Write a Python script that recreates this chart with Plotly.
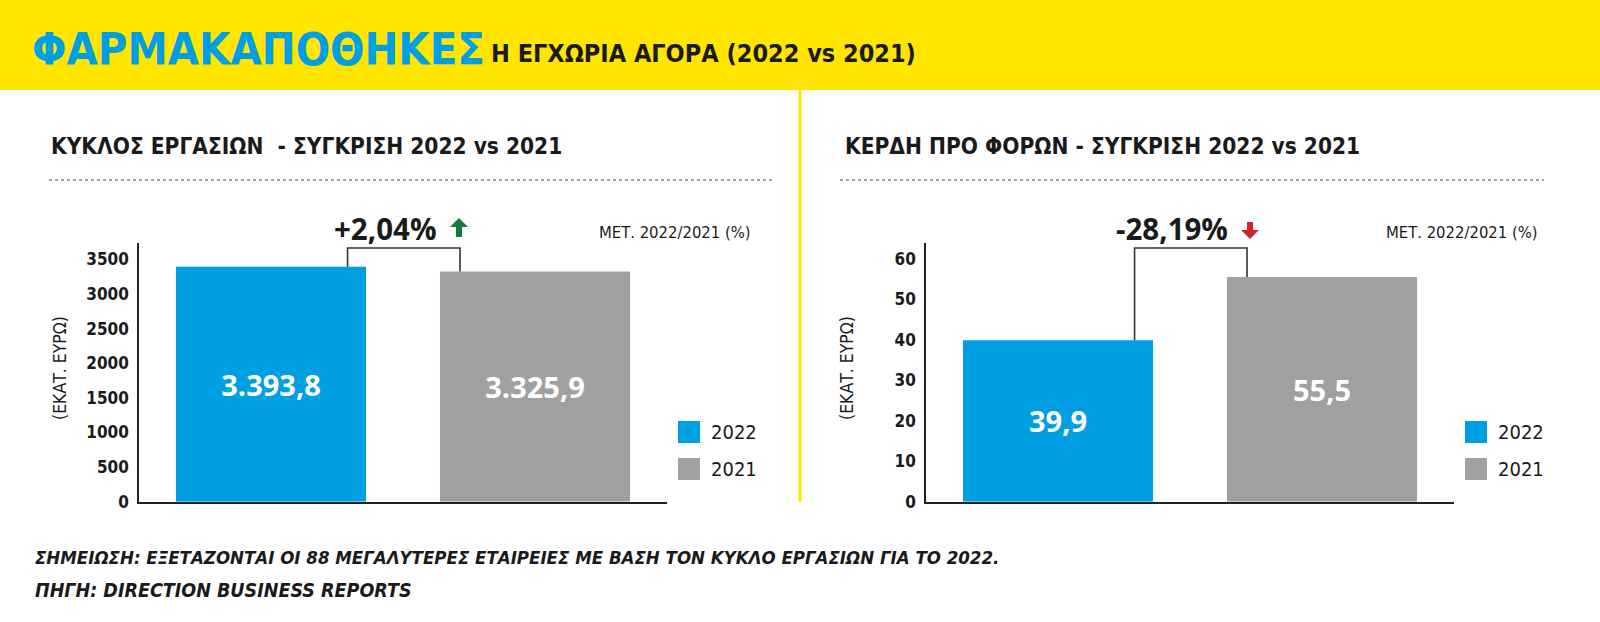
import plotly.graph_objects as go

# ---------------- data ----------------
categories = ["2022", "2021"]
turnover = [3393.8, 3325.9]          # ΚΥΚΛΟΣ ΕΡΓΑΣΙΩΝ (εκατ. ευρώ)
profit = [39.9, 55.5]                # ΚΕΡΔΗ ΠΡΟ ΦΟΡΩΝ (εκατ. ευρώ)
turnover_change = "+2,04%"
profit_change = "-28,19%"
turnover_ticks = [0, 500, 1000, 1500, 2000, 2500, 3000, 3500]
profit_ticks = [0, 10, 20, 30, 40, 50, 60]

# ---------------- style ----------------
W = 1600
H = 622           # visible height used for positioning
H_LAYOUT = 632    # layout height (rendered paper comes out ~10px shorter)
BLUE = "#009FE3"
GRAY = "#A0A0A0"
YELLOW = "#FFE500"
DARK = "#222222"
NARROW = "Noto Sans Condensed, DejaVu Sans Condensed, sans-serif"
WIDE = "Open Sans, Noto Sans, sans-serif"


def px(x):
    return x / W


def py(y):
    return 1 - y / H


def gr(v):
    s = f"{v:,.1f}"
    return s.replace(",", "#").replace(".", ",").replace("#", ".")


Y_BOT, Y_TOP = 501.7, 243.0
panels = [
    dict(vals=turnover, ticks=turnover_ticks, rng=3736, x0=139, change=turnover_change,
         title="ΚΥΚΛΟΣ ΕΡΓΑΣΙΩΝ  - ΣΥΓΚΡΙΣΗ 2022 vs 2021", tx=49, dot=(49, 772), up=True),
    dict(vals=profit, ticks=profit_ticks, rng=63.9, x0=926, change=profit_change,
         title="ΚΕΡΔΗ ΠΡΟ ΦΟΡΩΝ - ΣΥΓΚΡΙΣΗ 2022 vs 2021", tx=843, dot=(840, 1544), up=False),
]
PW = 528

fig = go.Figure()
shapes = []
annotations = []

# banner
shapes.append(dict(type="rect", xref="paper", yref="paper", x0=0, x1=1, y0=py(90), y1=1,
                   fillcolor=YELLOW, line=dict(width=0), layer="below"))
annotations.append(dict(xref="paper", yref="paper", x=px(30), y=py(50), xanchor="left", yanchor="middle",
                        text="<b>ΦΑΡΜΑΚΑΠΟΘΗΚΕΣ</b>", showarrow=False,
                        font=dict(family=NARROW, size=45, color=BLUE)))
annotations.append(dict(xref="paper", yref="paper", x=px(489), y=py(53), xanchor="left", yanchor="middle",
                        text="<b>Η ΕΓΧΩΡΙΑ ΑΓΟΡΑ (2022 vs 2021)</b>", showarrow=False,
                        font=dict(family=NARROW, size=25, color="#1a1a1a")))
# divider
shapes.append(dict(type="line", xref="paper", yref="paper", x0=px(800), x1=px(800), y0=py(90), y1=py(502),
                   line=dict(color=YELLOW, width=3)))

for i, p in enumerate(panels):
    xa = "x" if i == 0 else f"x{i+1}"
    ya = "y" if i == 0 else f"y{i+1}"
    fig.add_trace(go.Bar(
        x=[0, 1], y=p["vals"], width=0.72,
        marker=dict(color=[BLUE, GRAY], line=dict(width=0)),
        text=[f"<b>{gr(v)}</b>" for v in p["vals"]], textposition="inside", insidetextanchor="middle",
        textfont=dict(family=WIDE, size=29, color="white"), textangle=0,
        hoverinfo="skip", showlegend=False, xaxis=xa, yaxis=ya, cliponaxis=False,
    ))
    axkey = "xaxis" if i == 0 else f"xaxis{i+1}"
    aykey = "yaxis" if i == 0 else f"yaxis{i+1}"
    fig.update_layout(**{
        axkey: dict(domain=[px(p["x0"]), px(p["x0"] + PW)], range=[-0.5, 1.5], showticklabels=False,
                    showgrid=False, zeroline=False, showline=True, linecolor=DARK, linewidth=1.5,
                    ticks="", anchor=ya, fixedrange=True),
        aykey: dict(domain=[py(Y_BOT), py(Y_TOP)], range=[0, p["rng"]], tickvals=p["ticks"],
                    ticktext=[f"<b>{t}</b>" for t in p["ticks"]],
                    tickfont=dict(family=NARROW, size=17, color="#1a1a1a"),
                    showgrid=False, zeroline=False, showline=True, linecolor=DARK, linewidth=1.5,
                    ticks="", ticklabelstandoff=5, anchor=xa, fixedrange=True),
    })
    # subtitle
    annotations.append(dict(xref="paper", yref="paper", x=px(p["tx"]), y=py(146), xanchor="left",
                            yanchor="middle", text="<b>" + p["title"] + "</b>", showarrow=False,
                            font=dict(family=NARROW, size=22.5, color="#1a1a1a")))
    # dotted rule
    shapes.append(dict(type="line", xref="paper", yref="paper", x0=px(p["dot"][0]), x1=px(p["dot"][1]),
                       y0=py(180), y1=py(180), line=dict(color="#444444", width=1.2, dash="dot")))
    # y title
    annotations.append(dict(xref="paper", yref="paper", x=px(p["x0"] - 79), y=py(368), xanchor="center",
                            yanchor="middle", text="(ΕΚΑΤ. ΕΥΡΩ)", textangle=-90, showarrow=False,
                            font=dict(family=NARROW, size=17.5, color="#1a1a1a")))
    # bracket
    top = (Y_BOT - 248) / (Y_BOT - Y_TOP) * p["rng"]
    v0, v1 = p["vals"]
    shapes.append(dict(type="path", xref=xa, yref=ya,
                       path=f"M 0.29,{v0} L 0.29,{top} L 0.716,{top} L 0.716,{v1}",
                       line=dict(color="#333333", width=1.6)))
    # change label
    annotations.append(dict(xref="paper", yref="paper", x=px(p["x0"] + 246),
                            y=py(228), xanchor="center", yanchor="middle", text="<b>" + p["change"] + "</b>",
                            showarrow=False, font=dict(family=WIDE, size=29.5, color="#1a1a1a")))
    # arrow
    cx = p["x0"] + 320 if i == 0 else p["x0"] + 324
    if p["up"]:
        pts = [(cx, 218), (cx + 9, 227), (cx + 3, 227), (cx + 3, 237), (cx - 3, 237),
               (cx - 3, 227), (cx - 9, 227)]
        col = "#137A3B"
    else:
        pts = [(cx, 239), (cx + 9, 230), (cx + 3, 230), (cx + 3, 222), (cx - 3, 222),
               (cx - 3, 230), (cx - 9, 230)]
        col = "#D2232A"
    path = "M " + " L ".join(f"{px(a):.5f},{py(b):.5f}" for a, b in pts) + " Z"
    shapes.append(dict(type="path", xref="paper", yref="paper", path=path, fillcolor=col,
                       line=dict(width=0)))
    # ΜΕΤ. label
    annotations.append(dict(xref="paper", yref="paper", x=px(p["x0"] + 536), y=py(233), xanchor="center",
                            yanchor="middle", text="ΜΕΤ. 2022/2021 (%)", showarrow=False,
                            font=dict(family=NARROW, size=16.5, color="#1a1a1a")))
    # legend
    for j, (cat, col) in enumerate(zip(categories, [BLUE, GRAY])):
        lx = p["x0"] + 539
        ly = 421 + j * 37
        shapes.append(dict(type="rect", xref="paper", yref="paper", x0=px(lx), x1=px(lx + 22),
                           y0=py(ly + 22), y1=py(ly), fillcolor=col, line=dict(width=0)))
        annotations.append(dict(xref="paper", yref="paper", x=px(lx + 31), y=py(ly + 11), xanchor="left",
                                yanchor="middle", text=cat, showarrow=False,
                                font=dict(family=NARROW, size=20, color="#1a1a1a")))

# footer
annotations.append(dict(xref="paper", yref="paper", x=px(33), y=py(557), xanchor="left", yanchor="middle",
                        text="<b><i>ΣΗΜΕΙΩΣΗ: ΕΞΕΤΑΖΟΝΤΑΙ ΟΙ 88 ΜΕΓΑΛΥΤΕΡΕΣ ΕΤΑΙΡΕΙΕΣ ΜΕ ΒΑΣΗ ΤΟΝ ΚΥΚΛΟ ΕΡΓΑΣΙΩΝ ΓΙΑ ΤΟ 2022.</i></b>",
                        showarrow=False, font=dict(family=NARROW, size=18.5, color="#1a1a1a")))
annotations.append(dict(xref="paper", yref="paper", x=px(33), y=py(590), xanchor="left", yanchor="middle",
                        text="<b><i>ΠΗΓΗ: DIRECTION BUSINESS REPORTS</i></b>",
                        showarrow=False, font=dict(family=NARROW, size=19.5, color="#1a1a1a")))

fig.update_layout(width=W, height=H_LAYOUT, margin=dict(l=0, r=0, t=0, b=0), paper_bgcolor="white",
                  plot_bgcolor="white", shapes=shapes, annotations=annotations, showlegend=False)
fig.write_html("out.html", config={"displayModeBar": False})
